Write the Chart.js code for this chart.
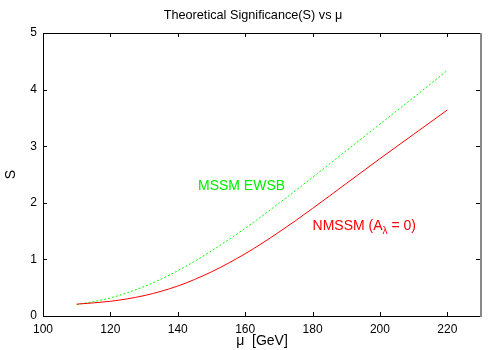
<!DOCTYPE html>
<html>
<head>
<meta charset="utf-8">
<script src="https://cdn.jsdelivr.net/npm/chart.js@4/dist/chart.umd.min.js"></script>
<style>
html,body{margin:0;padding:0;background:#fff;}
#wrap{width:500px;height:350px;}
</style>
</head>
<body>
<div id="wrap"><canvas id="c" width="500" height="350"></canvas></div>
<script>
const mu = [110, 120, 130, 140, 150, 160, 170, 180, 190, 200, 210, 220];
const nmssm = [0.21, 0.26, 0.36, 0.53, 0.78, 1.10, 1.48, 1.90, 2.34, 2.78, 3.21, 3.64];
const mssm = [0.20, 0.32, 0.52, 0.80, 1.15, 1.55, 1.99, 2.45, 2.92, 3.39, 3.86, 4.34];
const xTicks = [100, 120, 140, 160, 180, 200, 220];
const yTicks = [0, 1, 2, 3, 4, 5];
const titleText = 'Theoretical Significance(S) vs \u03bc';
const xTitle = '\u03bc  [GeV]';
const yTitle = 'S';
const labels = [
  {text: 'MSSM EWSB', x: 146, y: 2.30, color: '#00ee00'},
  {text: 'NMSSM (A', sub: '\u03bb', rest: ' = 0)', x: 180, y: 1.59, color: '#ff0000'}
];

const FONT = 'Liberation Sans, Arial, Helvetica, sans-serif';

const framePlugin = {
  id: 'frame',
  afterDatasetsDraw(chart) {
    const ctx = chart.ctx;
    const a = chart.chartArea;
    const xs = chart.scales.x, ys = chart.scales.y;
    ctx.save();
    ctx.strokeStyle = '#000';
    ctx.lineWidth = 1;
    ctx.beginPath();
    ctx.moveTo(a.left + 0.5, a.bottom + 0.5);
    ctx.lineTo(a.left + 0.5, a.top + 0.5);
    ctx.lineTo(a.right, a.top + 0.5);
    ctx.moveTo(a.left, a.bottom + 0.5);
    ctx.lineTo(a.right, a.bottom + 0.5);
    ctx.stroke();
    ctx.strokeStyle = '#888';
    ctx.lineWidth = 2;
    ctx.beginPath();
    ctx.moveTo(a.right, a.top);
    ctx.lineTo(a.right, a.bottom + 1);
    ctx.stroke();
    ctx.strokeStyle = '#000';
    ctx.lineWidth = 1;
    ctx.beginPath();
    const L = 4;
    xTicks.forEach(v => {
      const px = Math.round(xs.getPixelForValue(v)) + 0.5;
      ctx.moveTo(px, a.bottom); ctx.lineTo(px, a.bottom - L);
      ctx.moveTo(px, a.top); ctx.lineTo(px, a.top + L);
    });
    yTicks.forEach(v => {
      const py = Math.round(ys.getPixelForValue(v)) + 0.5;
      ctx.moveTo(a.left, py); ctx.lineTo(a.left + L, py);
      ctx.moveTo(a.right - 1, py); ctx.lineTo(a.right - 1 - L, py);
    });
    ctx.stroke();
    // title
    ctx.fillStyle = '#000';
    ctx.font = '12.7px ' + FONT;
    ctx.textAlign = 'center';
    ctx.textBaseline = 'middle';
    ctx.fillText(titleText, (a.left + a.right) / 2 - 9, 15);
    ctx.textAlign = 'left';
    labels.forEach(l => {
      let px = xs.getPixelForValue(l.x);
      const py = ys.getPixelForValue(l.y);
      ctx.fillStyle = l.color;
      ctx.font = '14px ' + FONT;
      ctx.fillText(l.text, px, py);
      if (l.sub) {
        px += ctx.measureText(l.text).width;
        ctx.font = '10px ' + FONT;
        ctx.fillText(l.sub, px, py + 5);
        px += ctx.measureText(l.sub).width;
        ctx.font = '14px ' + FONT;
        ctx.fillText(l.rest, px, py);
      }
    });
    ctx.restore();
  }
};

new Chart(document.getElementById('c'), {
  type: 'line',
  data: {
    datasets: [
      {
        label: 'NMSSM',
        data: mu.map((m, i) => ({x: m, y: nmssm[i]})),
        borderColor: '#ff0000',
        borderWidth: 1,
        pointRadius: 0,
        cubicInterpolationMode: 'monotone',
        fill: false
      },
      {
        label: 'MSSM EWSB',
        data: mu.map((m, i) => ({x: m, y: mssm[i]})),
        borderColor: '#00ff00',
        borderWidth: 1,
        borderDash: [2, 2],
        pointRadius: 0,
        cubicInterpolationMode: 'monotone',
        fill: false
      }
    ]
  },
  options: {
    responsive: false,
    animation: false,
    devicePixelRatio: 1,
    layout: {padding: {left: 0, right: 19, top: 33, bottom: 0}},
    plugins: {
      legend: {display: false},
      tooltip: {enabled: false},
      title: {display: false}
    },
    scales: {
      x: {
        type: 'linear',
        min: 100,
        max: 230,
        grid: {display: false, drawTicks: false},
        border: {display: false},
        afterBuildTicks: s => { s.ticks = xTicks.map(v => ({value: v})); },
        afterFit: s => { s.height = 34; },
        ticks: {color: '#000', padding: 6, font: {family: FONT, size: 12}, maxRotation: 0},
        title: {display: true, text: xTitle, color: '#000', font: {family: FONT, size: 14}, padding: {top: 0, bottom: 0}}
      },
      y: {
        min: 0,
        max: 5,
        grid: {display: false, drawTicks: false},
        border: {display: false},
        afterBuildTicks: s => { s.ticks = yTicks.map(v => ({value: v})); },
        afterFit: s => { s.width = 43; },
        ticks: {color: '#000', padding: 6, font: {family: FONT, size: 12}},
        title: {display: true, text: yTitle, color: '#000', font: {family: FONT, size: 14}, padding: {top: 3, bottom: 0}}
      }
    }
  },
  plugins: [framePlugin]
});
</script>
</body>
</html>
